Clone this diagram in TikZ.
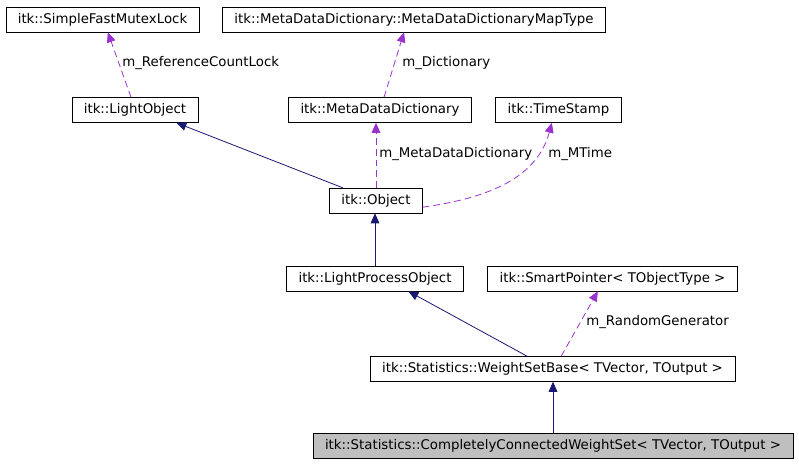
\documentclass[tikz,border=0pt]{standalone}
\usepackage{fontspec}
\setmainfont{DejaVu Sans}
\usetikzlibrary{arrows.meta}

\definecolor{inhcol}{HTML}{191970}
\definecolor{usecol}{HTML}{9A32CD}

\begin{document}
\begin{tikzpicture}[
    x=0.75pt, y=-0.75pt,
    cls/.style={draw, thin, font=\fontsize{10}{12}\selectfont, inner xsep=9pt, inner ysep=0pt, minimum height=18.75pt},
    this/.style={cls, fill=black!25},
    lbl/.style={anchor=west, inner sep=0pt, font=\fontsize{10}{12}\selectfont},
    inh/.style={-{Triangle[length=7.5pt,width=6.5pt]}, inhcol, semithick},
    use/.style={-{Triangle[length=7.5pt,width=6.5pt]}, usecol, semithick, dash pattern=on 5pt off 3pt}
]
\useasboundingbox (0,0) rectangle (799,464);

% Top row
\node[cls] (mutex) at (102.5,19.5) {itk::SimpleFastMutexLock};
\node[cls] (maptype) at (414,19.5) {itk::MetaDataDictionary::MetaDataDictionaryMapType};

% Second row
\node[cls] (lightobj) at (135,110) {itk::LightObject};
\node[cls] (mdd) at (380,110) {itk::MetaDataDictionary};
\node[cls] (tstamp) at (558.5,110) {itk::TimeStamp};

% Object
\node[cls] (object) at (376,200.5) {itk::Object};

% Process object and smart pointer
\node[cls] (lpo) at (375,278.5) {itk::LightProcessObject};
\node[cls] (smartptr) at (612.5,278.5) {itk::SmartPointer< TObjectType >};

% Weight sets
\node[cls] (wsb) at (552.5,369) {itk::Statistics::WeightSetBase< TVector, TOutput >};
\node[this] (ccws) at (553,446) {itk::Statistics::CompletelyConnectedWeightSet< TVector, TOutput >};

% Member labels
\node[lbl] (lblref) at (122,63) {m\_ReferenceCountLock};
\node[lbl] (lbldict) at (402,63) {m\_Dictionary};
\node[lbl] (lblmdd) at (379,154) {m\_MetaDataDictionary};
\node[lbl] (lblmtime) at (548,154) {m\_MTime};
\node[lbl] (lblrand) at (586,322.5) {m\_RandomGenerator};

% Inheritance
\draw[inh] ([xshift=-25pt]object.north) -- ([xshift=31pt]lightobj.south);
\draw[inh] (lpo.north) -- (lpo.north |- object.south);
\draw[inh] ([xshift=-19pt]wsb.north) -- ([xshift=25pt]lpo.south);
\draw[inh] (ccws.north) -- (ccws.north |- wsb.south);

% Usage
\draw[use] ([xshift=-3pt]lightobj.north) -- ([xshift=4pt]mutex.south);
\draw[use] ([xshift=3pt]mdd.north) -- ([xshift=-7.5pt]maptype.south);
\draw[use] (object.north) -- (object.north |- mdd.south);
\draw[use] ([yshift=-5pt]object.east) to[out=8,in=-105] ([xshift=-5pt]tstamp.south);
\draw[use] ([xshift=6.5pt]wsb.north) -- ([xshift=-11pt]smartptr.south);
\end{tikzpicture}
\end{document}
